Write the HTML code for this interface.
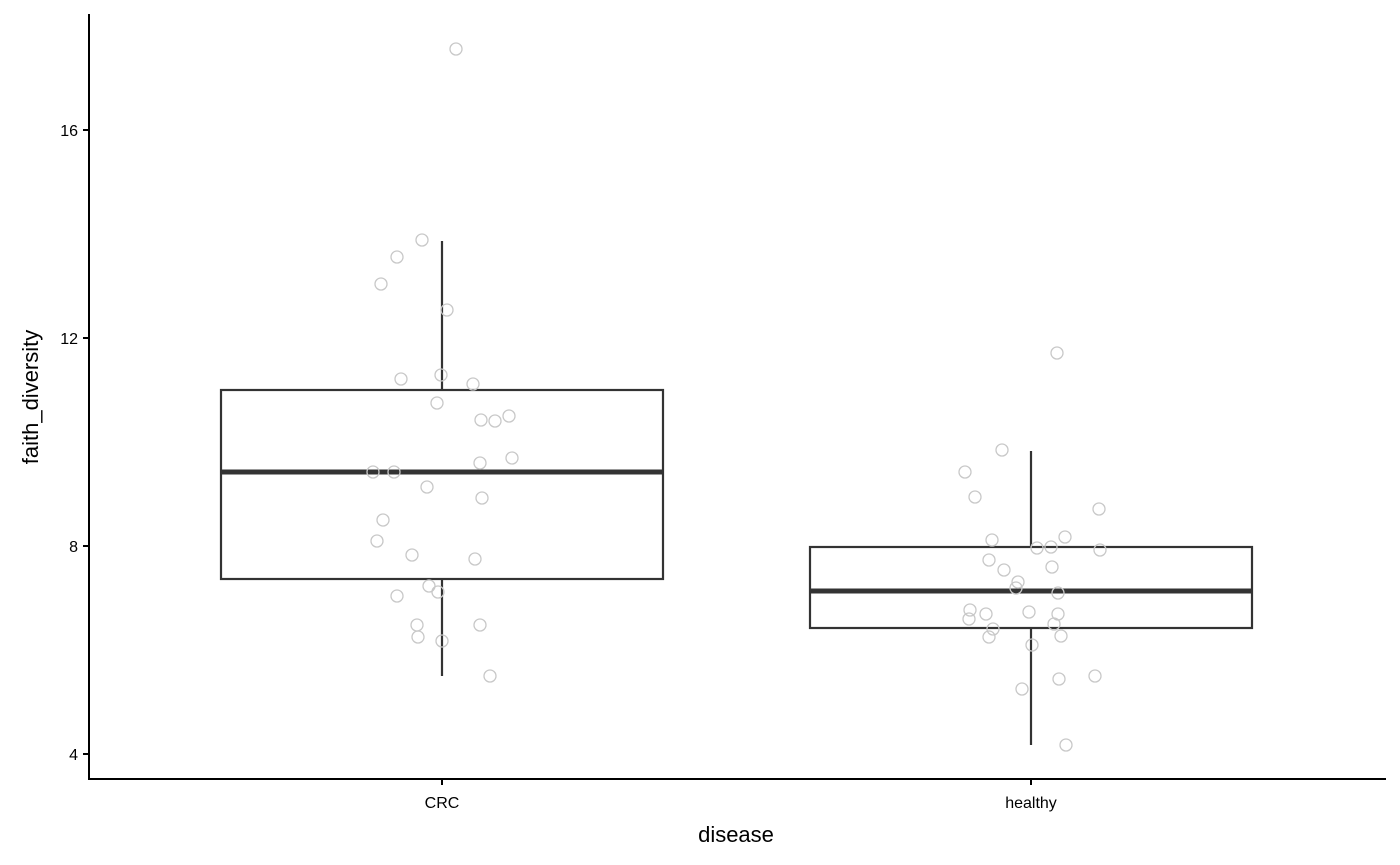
<!DOCTYPE html>
<html><head><meta charset="utf-8"><style>body{margin:0;background:#fff}svg{display:block}</style></head><body>
<svg width="1400" height="865" xmlns="http://www.w3.org/2000/svg" font-family="Liberation Sans, sans-serif">
<g stroke="#333" stroke-width="2.2" fill="none">
<line x1="442" y1="241" x2="442" y2="390"/><line x1="442" y1="579" x2="442" y2="676"/>
<rect x="221" y="390" width="442" height="189" fill="#fff"/>
<line x1="221" y1="472" x2="663" y2="472" stroke-width="5"/>
<line x1="1031" y1="451" x2="1031" y2="547"/><line x1="1031" y1="628" x2="1031" y2="745"/>
<rect x="810" y="547" width="442" height="81" fill="#fff"/>
<line x1="810" y1="591" x2="1252" y2="591" stroke-width="5"/>
</g>
<g fill="none" stroke="#c8c8c8" stroke-width="1.3">
<circle cx="456" cy="49" r="6"/><circle cx="422" cy="240" r="6"/><circle cx="397" cy="257" r="6"/><circle cx="381" cy="284" r="6"/><circle cx="447" cy="310" r="6"/><circle cx="401" cy="379" r="6"/><circle cx="441" cy="375" r="6"/><circle cx="473" cy="384" r="6"/><circle cx="437" cy="403" r="6"/><circle cx="481" cy="420" r="6"/><circle cx="495" cy="421" r="6"/><circle cx="509" cy="416" r="6"/><circle cx="480" cy="463" r="6"/><circle cx="512" cy="458" r="6"/><circle cx="373" cy="472" r="6"/><circle cx="394" cy="472" r="6"/><circle cx="427" cy="487" r="6"/><circle cx="482" cy="498" r="6"/><circle cx="383" cy="520" r="6"/><circle cx="377" cy="541" r="6"/><circle cx="412" cy="555" r="6"/><circle cx="475" cy="559" r="6"/><circle cx="429" cy="586" r="6"/><circle cx="438" cy="592" r="6"/><circle cx="397" cy="596" r="6"/><circle cx="417" cy="625" r="6"/><circle cx="480" cy="625" r="6"/><circle cx="418" cy="637" r="6"/><circle cx="442" cy="641" r="6"/><circle cx="490" cy="676" r="6"/>
<circle cx="1057" cy="353" r="6"/><circle cx="1002" cy="450" r="6"/><circle cx="965" cy="472" r="6"/><circle cx="975" cy="497" r="6"/><circle cx="1099" cy="509" r="6"/><circle cx="992" cy="540" r="6"/><circle cx="1065" cy="537" r="6"/><circle cx="1037" cy="548" r="6"/><circle cx="1051" cy="547" r="6"/><circle cx="1100" cy="550" r="6"/><circle cx="989" cy="560" r="6"/><circle cx="1052" cy="567" r="6"/><circle cx="1004" cy="570" r="6"/><circle cx="1018" cy="582" r="6"/><circle cx="1016" cy="588" r="6"/><circle cx="1058" cy="593" r="6"/><circle cx="970" cy="610" r="6"/><circle cx="986" cy="614" r="6"/><circle cx="1029" cy="612" r="6"/><circle cx="1058" cy="614" r="6"/><circle cx="969" cy="619" r="6"/><circle cx="1054" cy="624" r="6"/><circle cx="993" cy="629" r="6"/><circle cx="1061" cy="636" r="6"/><circle cx="989" cy="637" r="6"/><circle cx="1032" cy="645" r="6"/><circle cx="1095" cy="676" r="6"/><circle cx="1059" cy="679" r="6"/><circle cx="1022" cy="689" r="6"/><circle cx="1066" cy="745" r="6"/>
</g>
<g stroke="#000" stroke-width="2">
<line x1="89" y1="14" x2="89" y2="780"/><line x1="88" y1="779" x2="1386" y2="779"/>
<line x1="83" y1="130" x2="89" y2="130"/><line x1="83" y1="338" x2="89" y2="338"/><line x1="83" y1="546" x2="89" y2="546"/><line x1="83" y1="754" x2="89" y2="754"/>
<line x1="442" y1="779" x2="442" y2="785"/><line x1="1031" y1="779" x2="1031" y2="785"/>
</g>
<g font-size="16" fill="#000" text-anchor="end">
<text x="78" y="136">16</text><text x="78" y="344">12</text><text x="78" y="552">8</text><text x="78" y="760">4</text>
</g>
<g font-size="16" fill="#000" text-anchor="middle">
<text x="442" y="808">CRC</text><text x="1031" y="808">healthy</text>
</g>
<text x="736" y="842" font-size="22" text-anchor="middle">disease</text>
<text transform="translate(38,397) rotate(-90)" font-size="22" text-anchor="middle">faith_diversity</text>
</svg>
</body></html>
